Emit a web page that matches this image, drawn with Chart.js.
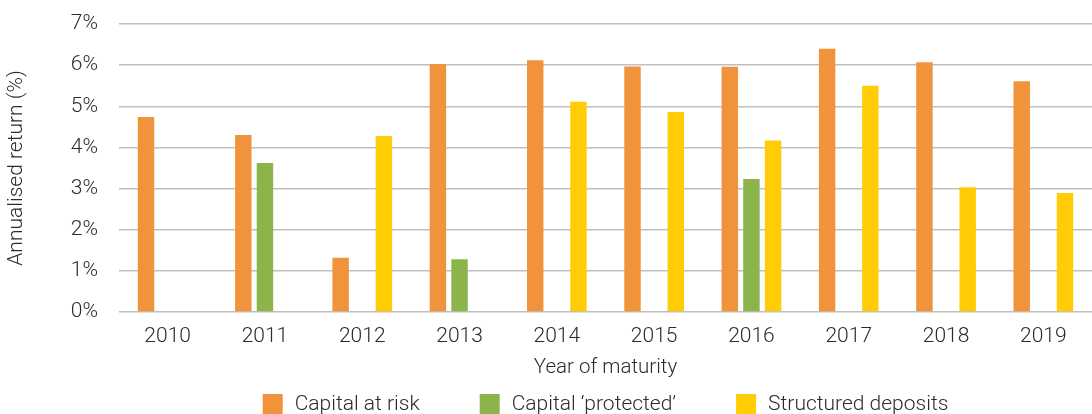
<!DOCTYPE html>
<html>
<head>
<meta charset="utf-8">
<script src="https://cdn.jsdelivr.net/npm/chart.js@4"></script>
<style>
  html, body { margin: 0; padding: 0; background: #fff; }
  #wrap { width: 1092px; height: 414px; }
</style>
</head>
<body>
<div id="wrap"><canvas id="barChart" width="1092" height="414"></canvas></div>
<script>
// chart data
const years = ['2010', '2011', '2012', '2013', '2014', '2015', '2016', '2017', '2018', '2019'];
const capitalAtRisk = [4.74, 4.30, 1.32, 6.03, 6.12, 5.97, 5.96, 6.40, 6.07, 5.61];
const capitalProtected = [null, 3.62, null, 1.28, null, null, 3.23, null, null, null];
const structuredDeposits = [null, null, 4.28, null, 5.11, 4.86, 4.17, 5.50, 3.03, 2.89];
const yTicks = [0, 1, 2, 3, 4, 5, 6, 7];

const fontFamily = "Roboto, 'Liberation Sans', sans-serif";
const textColor = '#2b2b2b';

// legend drawn by hand so it can sit low and cut off like the original
const bottomLegend = {
    id: 'bottomLegend',
    afterDraw(chart) {
        const c = chart.ctx;
        const box = 20, gapText = 12, gapItem = 60, top = 394;
        c.save();
        c.font = '300 21px ' + fontFamily;
        c.textBaseline = 'middle';
        c.textAlign = 'left';
        const items = chart.data.datasets.map(ds => ({
            text: ds.label, color: ds.backgroundColor, w: c.measureText(ds.label).width
        }));
        let total = 0;
        items.forEach((it, i) => { total += box + gapText + it.w + (i ? gapItem : 0); });
        const area = chart.chartArea;
        let x = (area.left + area.right) / 2 - total / 2;
        items.forEach(it => {
            c.fillStyle = it.color;
            c.fillRect(x, top, box, box);
            c.fillStyle = textColor;
            c.fillText(it.text, x + box + gapText, top + 11);
            x += box + gapText + it.w + gapItem;
        });
        c.restore();
    }
};

const ctx = document.getElementById('barChart').getContext('2d');

const myBarChart = new Chart(ctx, {
    type: 'bar',
    data: {
        labels: years,
        datasets: [
            { label: 'Capital at risk', data: capitalAtRisk, backgroundColor: '#F0933A' },
            { label: 'Capital \u2018protected\u2019', data: capitalProtected, backgroundColor: '#8BB44B' },
            { label: 'Structured deposits', data: structuredDeposits, backgroundColor: '#FFCC05' }
        ]
    },
    options: {
        responsive: false,
        animation: false,
        categoryPercentage: 0.667,
        barPercentage: 0.76,
        layout: { padding: { top: 24, right: 0, bottom: 29, left: 0 } },
        plugins: {
            tooltip: { enabled: false },
            legend: { display: false }
        },
        scales: {
            x: {
                afterFit: (scale) => { scale.height = 73; },
                grid: { display: false, drawTicks: false },
                border: { display: false },
                ticks: {
                    padding: 12,
                    color: textColor,
                    font: { family: fontFamily, size: 21, weight: 300 }
                },
                title: {
                    display: true,
                    text: 'Year of maturity',
                    color: textColor,
                    padding: { top: 6, bottom: 5 },
                    font: { family: fontFamily, size: 20.5, weight: 300 }
                }
            },
            y: {
                min: yTicks[0],
                max: yTicks[yTicks.length - 1],
                afterBuildTicks: (scale) => {
                    scale.ticks = yTicks.map(v => ({ value: v }));
                },
                afterFit: (scale) => {
                    scale.width = 119;
                    scale.paddingTop = 0;
                    scale.paddingBottom = 0;
                },
                grid: { color: '#BFBFBF', lineWidth: 1.5, drawTicks: false },
                border: { display: false },
                ticks: {
                    padding: 21,
                    color: textColor,
                    font: { family: fontFamily, size: 21, weight: 300 },
                    callback: (v) => v + '%'
                },
                title: {
                    display: true,
                    text: 'Annualised return (%)',
                    color: textColor,
                    padding: { top: 4, bottom: 0 },
                    font: { family: fontFamily, size: 21, weight: 300 }
                }
            }
        }
    },
    plugins: [bottomLegend]
});
</script>
</body>
</html>
